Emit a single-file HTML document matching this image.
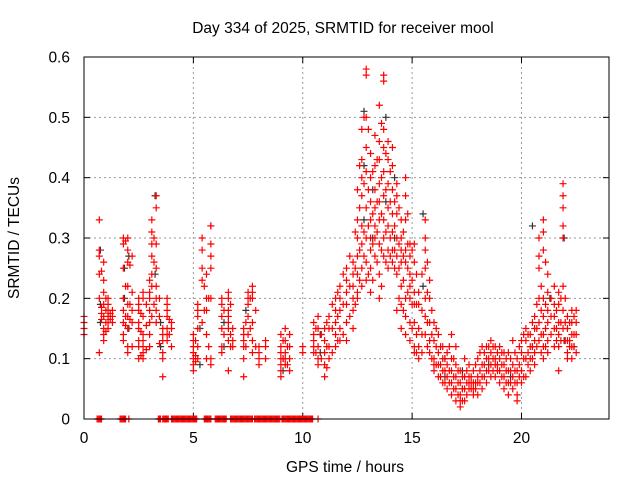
<!DOCTYPE html>
<html><head><meta charset="utf-8">
<style>
html,body{margin:0;padding:0;background:#fff;}
svg{display:block;font-family:"Liberation Sans",sans-serif;}
</style></head>
<body>
<svg id="chart" width="640" height="480" viewBox="0 0 640 480">
<text x="343" y="33" font-size="15.5" text-anchor="middle" fill="#000">Day 334 of 2025, SRMTID for receiver mool</text>
<text x="0" y="0" font-size="15.5" text-anchor="middle" fill="#000" transform="translate(19,238) rotate(-90)">SRMTID / TECUs</text>
<text x="345" y="472" font-size="15.5" text-anchor="middle" fill="#000">GPS time / hours</text>
<g id="grid"></g>
<g id="ticks"></g>
<g id="black"></g>
<g id="red"></g>
<rect x="84" y="57" width="525" height="362" fill="none" stroke="#000" stroke-width="1"/>
</svg>
<script>
const xTicks=[0,5,10,15,20];
const yTicks=[0,0.1,0.2,0.3,0.4,0.5,0.6];
const yTickLabels=["0","0.1","0.2","0.3","0.4","0.5","0.6"];
// red clusters: [hour, values...]
const redClusters=[
[0.0,0.16,0.14,0.17,0.15],
[0.7,0.33,0.28,0.24,0.27,0.2,0.11],
[0.9,0.26,0.23,0.21,0.19,0.17,0.15,0.14,0.13],
[1.1,0.18,0.17,0.19,0.16,0.17,0.2,0.15],
[1.3,0.18,0.17,0.16],
[1.8,0.3,0.29,0.25,0.2,0.16,0.14,0.13,0.18],
[2.0,0.3,0.28,0.26,0.22,0.19,0.17,0.12,0.11,0.15],
[2.2,0.27,0.21,0.18,0.16,0.12],
[2.5,0.2,0.19,0.16,0.15,0.13,0.1,0.18,0.12],
[2.7,0.21,0.2,0.17,0.14,0.12,0.1,0.11,0.13],
[3.0,0.23,0.21,0.18,0.16,0.14,0.12,0.2],
[3.1,0.27,0.33,0.31,0.29,0.24,0.22,0.17],
[3.3,0.37,0.35,0.29,0.25,0.22,0.2,0.18,0.16],
[3.6,0.15,0.14,0.13,0.11,0.1,0.07],
[3.8,0.2,0.19,0.18,0.17,0.15,0.14,0.13],
[4.0,0.16,0.15,0.12],
[5.0,0.14,0.13,0.12,0.11,0.1,0.09,0.08],
[5.2,0.19,0.18,0.17,0.15,0.12,0.1],
[5.4,0.3,0.28,0.25,0.23,0.16],
[5.6,0.24,0.2,0.18,0.14,0.1],
[5.8,0.32,0.32,0.29,0.27,0.25,0.2,0.1,0.09],
[6.3,0.2,0.19,0.17,0.15,0.12,0.11],
[6.6,0.21,0.2,0.18,0.17,0.16,0.15,0.13,0.08],
[6.8,0.15,0.13,0.12],
[7.3,0.15,0.14,0.13,0.12,0.1,0.07],
[7.5,0.21,0.2,0.19,0.17,0.14],
[7.7,0.22,0.21,0.2,0.16,0.13,0.11],
[8.0,0.12,0.11,0.1,0.09],
[8.3,0.13,0.12,0.1],
[9.0,0.12,0.11,0.1,0.09,0.08,0.07,0.14],
[9.2,0.15,0.13,0.11,0.1,0.09],
[9.4,0.14,0.12,0.1,0.08],
[10.0,0.12,0.11],
[10.5,0.16,0.14,0.13,0.12,0.11],
[10.7,0.17,0.15,0.12,0.1,0.09],
[11.0,0.15,0.13,0.11,0.09,0.07],
[11.2,0.17,0.15,0.12,0.1],
[11.5,0.2,0.18,0.16,0.14,0.12],
[11.7,0.22,0.2,0.18,0.15,0.13],
[12.0,0.25,0.23,0.21,0.19,0.16,0.13],
[12.3,0.26,0.24,0.22,0.2,0.18,0.15],
[12.5,0.38,0.33,0.3,0.27,0.24,0.21,0.2],
[12.7,0.48,0.43,0.4,0.37,0.32,0.29,0.25,0.22],
[12.9,0.58,0.57,0.5,0.45,0.41,0.35,0.3,0.26,0.23],
[13.1,0.44,0.4,0.36,0.33,0.3,0.28,0.25,0.21],
[13.3,0.47,0.42,0.38,0.35,0.32,0.3,0.27],
[13.5,0.52,0.46,0.43,0.39,0.36,0.33,0.29,0.24,0.2],
[13.7,0.57,0.56,0.48,0.45,0.41,0.37,0.33,0.3,0.27],
[13.9,0.46,0.43,0.39,0.35,0.32,0.28,0.25],
[14.1,0.45,0.42,0.38,0.34,0.31,0.28,0.26],
[14.3,0.39,0.37,0.34,0.3,0.27,0.24,0.18],
[14.5,0.33,0.3,0.28,0.26,0.22,0.19,0.15],
[14.7,0.4,0.37,0.33,0.28,0.26,0.2,0.17,0.14],
[14.9,0.29,0.27,0.24,0.22,0.2,0.16,0.13],
[15.1,0.29,0.26,0.21,0.19,0.16,0.12,0.11],
[15.3,0.21,0.19,0.15,0.12,0.1],
[15.6,0.33,0.3,0.28,0.25,0.2,0.17,0.14],
[15.8,0.23,0.2,0.16,0.13,0.11],
[16.0,0.16,0.13,0.1,0.09,0.08],
[16.2,0.14,0.11,0.09,0.07],
[16.4,0.12,0.1,0.08,0.06],
[16.6,0.11,0.09,0.07,0.05],
[16.8,0.14,0.1,0.08,0.06,0.04],
[17.0,0.12,0.09,0.07,0.05,0.03],
[17.2,0.08,0.06,0.04,0.03,0.02],
[17.4,0.1,0.07,0.05,0.03],
[17.6,0.09,0.07,0.06,0.05],
[17.8,0.08,0.06,0.05,0.04],
[18.0,0.1,0.07,0.06,0.04],
[18.2,0.12,0.09,0.07,0.05],
[18.4,0.12,0.1,0.08,0.06],
[18.6,0.13,0.11,0.09,0.07],
[18.8,0.12,0.1,0.09,0.07],
[19.0,0.12,0.1,0.08,0.06],
[19.2,0.11,0.09,0.07,0.05],
[19.4,0.11,0.08,0.06,0.04],
[19.6,0.13,0.09,0.07,0.05],
[19.8,0.1,0.08,0.06,0.04,0.03],
[20.0,0.13,0.11,0.08,0.06],
[20.2,0.15,0.13,0.1,0.07],
[20.4,0.14,0.12,0.1,0.08],
[20.6,0.17,0.15,0.13,0.11,0.09],
[20.8,0.3,0.27,0.25,0.2,0.16,0.13],
[21.0,0.33,0.31,0.28,0.2,0.17,0.14,0.12,0.1],
[21.2,0.24,0.21,0.18,0.16,0.13,0.11],
[21.5,0.22,0.19,0.17,0.15,0.12],
[21.7,0.21,0.19,0.16,0.14,0.12,0.08],
[21.9,0.39,0.37,0.35,0.32,0.3,0.22,0.18,0.15],
[22.1,0.17,0.15,0.13,0.11,0.1],
[22.3,0.18,0.16,0.14,0.12,0.1],
[22.5,0.18,0.16,0.14,0.11]
];
// extra red clusters filling the gaps
const redClusters2=[
[0.8,0.245,0.185,0.175,0.165],[1.0,0.2,0.18,0.16,0.145],[1.2,0.175,0.165],
[1.9,0.295,0.22,0.17,0.155],[2.1,0.255,0.19,0.165],[2.6,0.175,0.145,0.105],[2.85,0.19,0.155,0.115],
[3.2,0.3,0.26,0.19],[3.45,0.2,0.17,0.125],[3.9,0.165,0.14],
[5.1,0.13,0.105,0.095],[5.5,0.22,0.18],[5.7,0.2,0.12],[6.4,0.18,0.14],[6.7,0.19,0.14,0.12],
[7.4,0.16,0.12],[7.6,0.2,0.15],[7.85,0.18,0.12],[9.1,0.13,0.1],[9.3,0.12,0.09],
[10.6,0.15,0.11],[10.85,0.14,0.1],[11.1,0.16,0.12,0.085],[11.35,0.19,0.15,0.11],[11.6,0.21,0.17,0.13],[11.85,0.24,0.19,0.14],
[12.15,0.27,0.22,0.17],[12.4,0.31,0.25,0.19],[12.6,0.42,0.35,0.28,0.23],[12.8,0.5,0.39,0.31,0.27],
[13.0,0.48,0.38,0.32,0.24],[13.2,0.41,0.34,0.29,0.23],[13.4,0.43,0.36,0.31,0.26],[13.6,0.49,0.4,0.34,0.28,0.22],
[13.8,0.44,0.38,0.31,0.26],[14.0,0.41,0.36,0.3,0.27],[14.2,0.36,0.32,0.28,0.25],[14.4,0.35,0.29,0.25,0.2],
[14.6,0.31,0.27,0.23,0.18],[14.8,0.34,0.29,0.25,0.21],[15.0,0.28,0.23,0.19,0.15],[15.2,0.24,0.19,0.14,0.11],
[15.45,0.24,0.18,0.14,0.11],[15.7,0.26,0.21,0.16,0.12],[15.9,0.18,0.14,0.1],[16.1,0.15,0.12,0.09],
[16.3,0.12,0.09,0.07],[16.5,0.1,0.08,0.06],[16.7,0.12,0.08,0.06],[16.9,0.1,0.07,0.05],[17.1,0.08,0.06,0.04],
[17.3,0.07,0.05,0.03],[17.5,0.08,0.06,0.04],[17.7,0.07,0.06,0.05],[17.9,0.09,0.06,0.05],[18.1,0.11,0.08,0.06],
[18.3,0.11,0.09,0.07],[18.5,0.12,0.1,0.08],[18.7,0.12,0.1,0.08],[18.9,0.11,0.09,0.08],[19.1,0.11,0.09,0.07],
[19.3,0.1,0.08,0.06],[19.5,0.1,0.08,0.06],[19.7,0.11,0.08,0.06],[19.9,0.12,0.09,0.07],[20.1,0.14,0.1,0.07],
[20.3,0.14,0.11,0.09],[20.5,0.16,0.12,0.1],[20.7,0.19,0.15,0.12],[20.9,0.22,0.18,0.14,0.11],[21.1,0.26,0.19,0.15,0.12],
[21.35,0.2,0.17,0.14],[21.6,0.18,0.15,0.13],[21.8,0.2,0.16,0.13],[22.0,0.2,0.16,0.13],[22.2,0.16,0.13,0.12],[22.4,0.17,0.14,0.12]
];
const blackClusters=[
[0.75,0.28,0.19,0.16],[1.85,0.25,0.2],[2.05,0.27,0.15],[3.25,0.37,0.24],[3.5,0.16,0.12],
[5.3,0.15,0.09],[6.4,0.16,0.12],[7.4,0.18],[9.1,0.1,0.08],[10.8,0.14,0.11],
[12.8,0.51,0.42,0.33],[13.2,0.38,0.3],[13.8,0.5,0.36],[14.2,0.4,0.3],[15.5,0.34,0.22],
[16.5,0.1,0.07],[17.3,0.05,0.08],[18.5,0.09],[19.5,0.07],[20.5,0.32,0.12],[21.3,0.2],[21.95,0.3,0.13],[22.4,0.12]
];
// hour ranges where red markers sit at zero
const zeroRanges=[[0.6,0.8],[1.65,1.9],[2.05,2.05],[3.4,3.5],[3.6,3.85],[4.0,5.15],[5.5,5.8],[6.0,6.5],[6.7,7.7],[7.8,8.95],[9.05,10.45],[10.7,10.7]];

const X0=84,X1=609,Y0=419,Y1=57;
const xs=h=>X0+(X1-X0)*h/24;
const ys=v=>Y0-(Y0-Y1)*v/0.6;
const NS="http://www.w3.org/2000/svg";
const mk=(tag,attrs,parent)=>{const e=document.createElementNS(NS,tag);for(const k in attrs)e.setAttribute(k,attrs[k]);parent.appendChild(e);return e;};
const grid=document.getElementById('grid'),ticks=document.getElementById('ticks');
xTicks.forEach(t=>{
  const x=xs(t);
  if(t>0){const g=mk('line',{x1:x,y1:Y0,x2:x,y2:Y1,stroke:'#999','stroke-dasharray':'2,3'},grid);
  
  }
  mk('line',{x1:x,y1:Y0,x2:x,y2:Y0-6,stroke:'#000'},ticks);
  mk('line',{x1:x,y1:Y1,x2:x,y2:Y1+6,stroke:'#000'},ticks);
  const l=mk('text',{x:x,y:Y0+24,'font-size':15.5,'text-anchor':'middle'},ticks);l.textContent=String(t);
  
  
});
yTicks.forEach((t,i)=>{
  const y=ys(t);
  if(t>0&&t<0.6){const g=mk('line',{x1:X0,y1:y,x2:X1,y2:y,stroke:'#999','stroke-dasharray':'2,3'},grid);
  
  }
  mk('line',{x1:X0,y1:y,x2:X0+6,y2:y,stroke:'#000'},ticks);
  mk('line',{x1:X1,y1:y,x2:X1-6,y2:y,stroke:'#000'},ticks);
  const l=mk('text',{x:X0-14,y:y+5.5,'font-size':15.5,'text-anchor':'end'},ticks);l.textContent=yTickLabels[i];
  
  
});
function plus(g,h,v,col){
  const x=xs(h),y=ys(v);
  const p=mk('path',{d:`M${x-3.5},${y}H${x+3.5}M${x},${y-3.5}V${y+3.5}`,stroke:col,'stroke-width':1.2,fill:'none'},g);
  
  
}
const bg=document.getElementById('black'),rg=document.getElementById('red');
blackClusters.forEach(c=>{for(let i=1;i<c.length;i++)plus(bg,c[0],c[i],'#333');});
redClusters.forEach(c=>{for(let i=1;i<c.length;i++)plus(rg,c[0],c[i],'#f00');});
redClusters2.forEach(c=>{for(let i=1;i<c.length;i++)plus(rg,c[0],c[i],'#f00');});
zeroRanges.forEach(r=>{for(let h=r[0];h<=r[1]+1e-9;h+=0.05)plus(rg,h,0,'#f00');});
</script>
</body></html>
